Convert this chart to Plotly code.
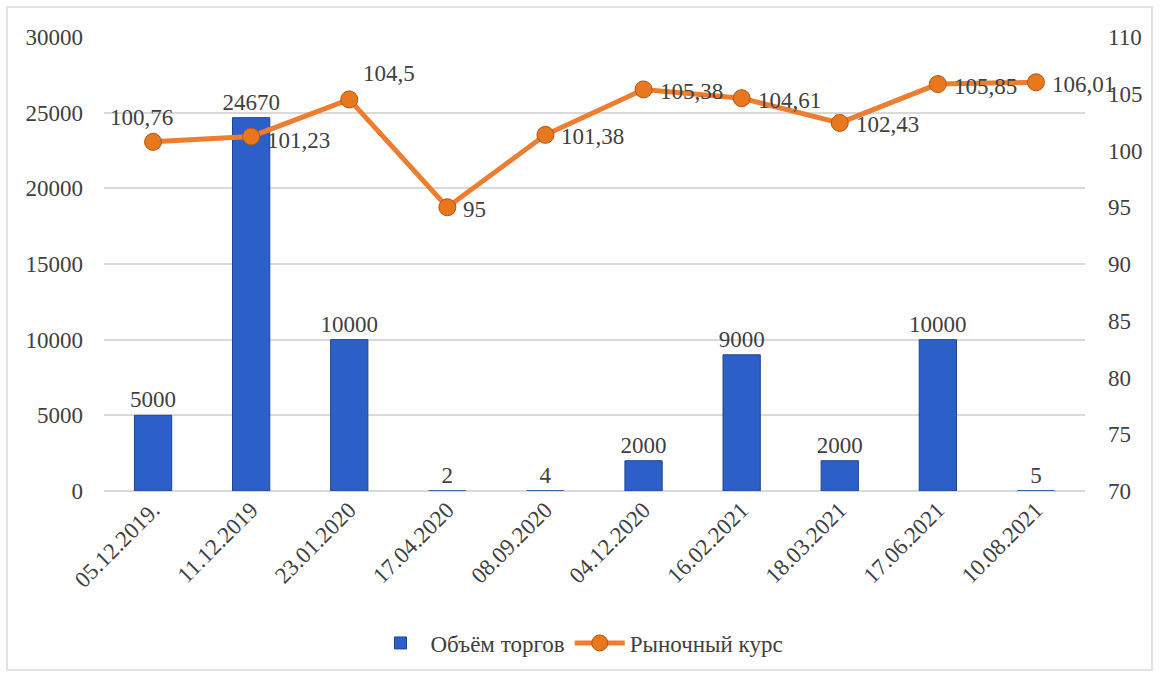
import plotly.graph_objects as go

dates = ["05.12.2019.", "11.12.2019", "23.01.2020", "17.04.2020", "08.09.2020",
         "04.12.2020", "16.02.2021", "18.03.2021", "17.06.2021", "10.08.2021"]
volume = [5000, 24670, 10000, 2, 4, 2000, 9000, 2000, 10000, 5]
rate = [100.76, 101.23, 104.5, 95, 101.38, 105.38, 104.61, 102.43, 105.85, 106.01]

rate_text = [f"{v:g}".replace(".", ",") for v in rate]
# label placement: (xanchor, xshift, yshift)
rate_place = [("center", -12, 24), ("left", 14, -4), ("left", 12, 26)] + [("left", 14, -2)] * 7

FONT = "Liberation Serif"
TXT = "#404040"
FS = 23

fig = go.Figure()
fig.add_trace(go.Bar(
    x=dates, y=volume, name="Объём торгов",
    marker=dict(color="#2C60C8", line=dict(color="#1D4590", width=1)),
    width=0.38,
    text=[str(v) for v in volume], textposition="outside", constraintext="none",
    textfont=dict(family=FONT, size=FS, color=TXT),
    cliponaxis=False,
))
fig.add_trace(go.Scatter(
    x=dates, y=rate, name="Рыночный курс", yaxis="y2",
    mode="lines+markers",
    line=dict(color="#ED7D31", width=5),
    marker=dict(size=17, color="#E8771E", line=dict(color="#B3560F", width=1)),
    cliponaxis=False,
))

annotations = []
for d, v, t, (xa, xs, ys) in zip(dates, rate, rate_text, rate_place):
    annotations.append(dict(x=d, y=v, xref="x", yref="y2", text=t, showarrow=False,
                            xanchor=xa, yanchor="middle", xshift=xs, yshift=ys,
                            font=dict(family=FONT, size=FS, color=TXT)))

fig.update_layout(
    width=1159, height=677,
    paper_bgcolor="white", plot_bgcolor="white",
    margin=dict(l=104, r=74, t=37, b=186, autoexpand=False),
    font=dict(family=FONT, size=FS, color=TXT),
    bargap=0.62,
    showlegend=True,
    legend=dict(orientation="h", x=0.5, xanchor="center", xref="container",
                y=1 - 643 / 677, yanchor="middle", yref="container",
                font=dict(family=FONT, size=FS, color=TXT), itemwidth=50),
    xaxis=dict(tickangle=-45, showgrid=False, showline=False, ticks="", automargin=False,
               range=[-0.5, 9.5], autorange=False,
               tickfont=dict(family=FONT, size=FS, color=TXT)),
    yaxis=dict(range=[0, 30000], dtick=5000, tickformat="d", showgrid=True, gridcolor="#D9D9D9",
               gridwidth=1.5, zeroline=True, zerolinecolor="#D9D9D9", zerolinewidth=1.5,
               ticks="", ticklabelstandoff=20, automargin=False,
               tickfont=dict(family=FONT, size=FS, color=TXT)),
    yaxis2=dict(range=[70, 110], dtick=5, overlaying="y", side="right", showgrid=False,
                zeroline=False, ticks="", ticklabelstandoff=22, automargin=False,
                tickfont=dict(family=FONT, size=FS, color=TXT)),
    annotations=annotations,
    shapes=[dict(type="rect", xref="paper", yref="paper",
                 x0=-97/981, x1=(1152 - 104) / 981, y0=-(670 - 491) / 454, y1=1 + 30 / 454,
                 line=dict(color="#D9D9D9", width=1.5), fillcolor="rgba(0,0,0,0)", layer="below")],
)

fig.write_html("out.html")
